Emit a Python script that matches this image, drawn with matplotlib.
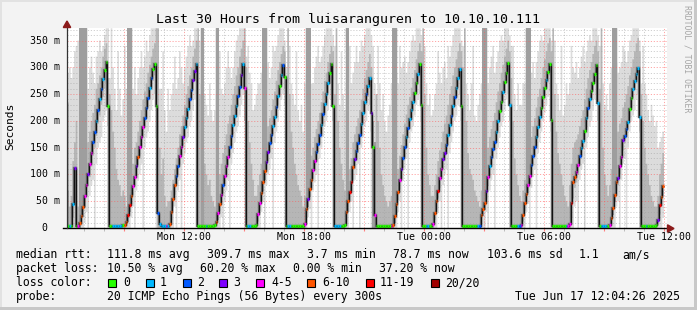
import numpy as np
import matplotlib
matplotlib.use("Agg")
import matplotlib.pyplot as plt
import matplotlib.patches as mpatches

W, H = 697, 310
BACK = "#f3f3f3"
MONO = "DejaVu Sans Mono"
LIGHT = "#dcdcdc"
MID = "#b6b6b6"
DARK = "#9e9e9e"

LOSS_COLORS = ["#26ff00", "#00b8ff", "#0059ff", "#7e00ff",
               "#ff00ff", "#ff5500", "#ff0000", "#a10000"]
LOSS_LABELS = ["0", "1", "2", "3", "4-5", "6-10", "11-19", "20/20"]

# ── DATA: one value per 300 s step, Mon 06:05 .. Tue 12:00 ──────────────────
median = [
    233, 233, 4, 4, 3, 45, 112, 4,
    3, 10, 22, 40, 60, 80, 100, 120, 140, 160, 180, 200, 220, 240, 260, 278, 295, 310, 228, 4,
    4, 3, 4, 4, 3, 4, 4, 5,
    5, 12, 25, 43, 60, 78, 96, 115, 133, 151, 170, 188, 206, 225, 243, 261, 280, 297, 307, 228, 28, 8,
    4, 4, 3, 4, 4,
    8, 30, 55, 80, 98, 116, 134, 152, 170, 188, 205, 223, 240, 258, 276, 293, 307, 4,
    4, 3, 4, 4, 4, 3, 4, 4, 4,
    5, 12, 28, 45, 62, 80, 97, 115, 132, 152, 172, 192, 210, 228, 246, 264, 285, 307, 261, 4,
    3, 4, 4, 4, 4,
    5, 26, 46, 66, 86, 106, 124, 141, 158, 174, 190, 207, 226, 246, 266, 285, 304, 282, 4,
    4, 4, 4, 3, 4, 4, 4, 4, 3, 4,
    8, 35, 55, 73, 90, 108, 125, 141, 157, 173, 193, 212, 232, 251, 270, 290, 307, 228, 4,
    4, 4, 4, 4, 4, 6,
    30, 50, 68, 85, 114, 128, 143, 158, 173, 194, 215, 236, 250, 265, 280, 214, 151, 24, 4,
    4, 4, 4, 4, 4, 3, 4, 4, 4,
    6, 22, 45, 68, 90, 110, 131, 152, 170, 187, 203, 220, 236, 253, 270, 288, 307, 230, 4,
    4, 4, 4, 3, 4,
    8, 28, 50, 70, 94, 111, 128, 140, 155, 173, 192, 210, 228, 245, 262, 280, 297, 228, 4,
    4, 4, 4, 4, 3, 4, 4, 4, 4, 4,
    24, 35, 46, 70, 95, 115, 132, 147, 161, 180, 199, 218, 236, 254, 272, 290, 309, 230, 4,
    4, 4, 4, 4, 4,
    5, 25, 47, 63, 80, 98, 117, 135, 152, 170, 189, 207, 225, 244, 262, 277, 292, 307, 201, 4,
    4, 4, 4, 4, 4, 4, 4, 3, 4,
    8, 46, 86, 95, 105, 117, 135, 150, 162, 182, 205, 225, 240, 255, 270, 288, 304, 234, 4,
    4, 4, 4, 4, 4,
    5, 18, 37, 62, 85, 94, 116, 133, 164, 172, 185, 198, 223, 242, 260, 275, 288, 299, 207, 4,
    4, 4, 4, 4, 3, 4, 4, 4,
    5, 15, 43, 58, 79,
]

# loss class per step (index into LOSS_COLORS)
loss = ("11010130"
        "45554434422121210000"
        "01111110"
        "5566544354442221200021"
        "11141"
        "555522443111223310"
        "000010000"
        "05454244422111223140"
        "11000"
        "0445553322112101200"
        "1100000000"
        "4535544222121110001"
        "111000"
        "5566532221112113040"
        "000000004"
        "5555432212111001000"
        "01100"
        "4556443321121211100"
        "0000000012"
        "5553412221100100010"
        "00012"
        "45554422211100010000"
        "000000014"
        "4655442110121000010"
        "11110"
        "45555344322100111110"
        "00100000"
        "03655")

# outer smoke (light grey)
smoke_lo = [
    0, 0, 0, 0, 0, 0, 0, 0,
    0, 0, 0, 0, 10, 30, 0, 60, 80, 90, 0, 120, 150, 160, 170, 200, 210, 220, 0, 0,
    0, 0, 0, 0, 0, 0, 0, 0,
    0, 0, 0, 0, 20, 40, 0, 70, 90, 100, 120, 0, 150, 170, 180, 200, 220, 240, 250, 0, 0, 0,
    0, 0, 0, 0, 0,
    0, 0, 0, 40, 0, 70, 90, 0, 120, 140, 160, 170, 190, 200, 220, 240, 250, 0,
    0, 0, 0, 0, 0, 0, 0, 0, 0,
    0, 0, 0, 0, 20, 0, 50, 70, 90, 0, 120, 140, 160, 180, 190, 210, 230, 250, 200, 0,
    0, 0, 0, 0, 0,
    0, 0, 0, 30, 50, 0, 80, 100, 110, 130, 0, 160, 180, 200, 220, 240, 250, 230, 0,
    0, 0, 0, 0, 0, 0, 0, 0, 0, 0,
    0, 0, 20, 35, 0, 70, 85, 100, 0, 130, 150, 170, 190, 200, 220, 240, 250, 0, 0,
    0, 0, 0, 0, 0, 0,
    0, 0, 30, 50, 0, 90, 100, 120, 0, 150, 170, 190, 200, 220, 230, 0, 0, 0, 0,
    0, 0, 0, 0, 0, 0, 0, 0, 0,
    0, 0, 0, 30, 50, 0, 90, 110, 130, 0, 160, 180, 190, 210, 230, 240, 250, 0, 0,
    0, 0, 0, 0, 0,
    0, 0, 0, 30, 50, 0, 80, 100, 110, 0, 140, 160, 180, 200, 210, 230, 250, 0, 0,
    0, 0, 0, 0, 0, 0, 0, 0, 0, 0,
    0, 0, 0, 30, 0, 70, 90, 100, 0, 130, 150, 170, 190, 200, 220, 240, 250, 0, 0,
    0, 0, 0, 0, 0,
    0, 0, 0, 30, 45, 0, 75, 95, 110, 0, 140, 160, 180, 200, 215, 230, 245, 255, 0, 0,
    0, 0, 0, 0, 0, 0, 0, 0, 0,
    0, 0, 0, 40, 50, 0, 90, 110, 120, 0, 150, 170, 190, 200, 220, 240, 250, 0, 0,
    0, 0, 0, 0, 0,
    0, 0, 0, 0, 40, 50, 0, 90, 120, 130, 0, 150, 180, 200, 210, 220, 240, 250, 0, 0,
    0, 0, 0, 0, 0, 0, 0, 0,
    0, 0, 0, 0, 20,
]
smoke_hi = [
    373, 373, 290, 300, 280, 300, 330, 340,
    350, 373, 340, 320, 300, 280, 260, 300, 320, 290, 270, 320, 330, 350, 330, 340, 360, 373, 373, 280,
    373, 300, 260, 220, 330, 260, 210, 240,
    340, 260, 220, 200, 230, 260, 300, 250, 280, 300, 330, 300, 320, 350, 330, 360, 373, 373, 373, 373, 340, 260,
    260, 330, 220, 180, 260,
    220, 250, 270, 320, 260, 280, 330, 300, 270, 300, 320, 340, 360, 340, 350, 373, 373, 340,
    350, 270, 290, 250, 230, 210, 270, 220, 200,
    220, 250, 270, 330, 260, 250, 270, 300, 330, 300, 280, 300, 330, 350, 360, 373, 373, 373, 350, 320,
    340, 290, 270, 220, 230,
    250, 270, 270, 290, 340, 270, 300, 310, 280, 300, 340, 330, 340, 360, 373, 373, 373, 350, 300,
    373, 340, 270, 250, 230, 330, 220, 200, 230, 180,
    270, 290, 270, 330, 270, 270, 300, 320, 340, 310, 320, 340, 360, 373, 373, 373, 373, 360, 340,
    340, 270, 230, 330, 250, 220,
    270, 300, 340, 270, 290, 310, 340, 310, 330, 350, 340, 360, 373, 373, 373, 360, 340, 270, 250,
    340, 270, 220, 250, 200, 180, 210, 230, 270,
    250, 270, 290, 270, 340, 300, 310, 320, 290, 310, 330, 350, 360, 350, 373, 373, 373, 360, 270,
    340, 270, 230, 250, 210,
    220, 250, 270, 330, 290, 270, 300, 310, 280, 340, 320, 340, 360, 373, 373, 373, 373, 350, 340,
    350, 270, 250, 220, 270, 340, 210, 200, 230, 250,
    270, 340, 270, 290, 270, 300, 320, 340, 290, 310, 330, 350, 360, 350, 373, 373, 373, 360, 340,
    340, 250, 220, 270, 230,
    230, 270, 270, 290, 340, 270, 290, 310, 280, 310, 330, 350, 360, 350, 373, 373, 373, 373, 350, 340,
    350, 270, 250, 220, 340, 210, 230, 270, 250,
    270, 340, 300, 290, 310, 280, 300, 320, 340, 310, 330, 350, 360, 350, 373, 373, 373, 360, 340,
    340, 270, 230, 250, 220,
    270, 300, 340, 320, 310, 290, 300, 310, 340, 330, 310, 330, 350, 360, 373, 373, 373, 373, 350, 270,
    340, 270, 250, 220, 200, 230, 210, 190,
    200, 150, 160, 170, 180,
]

# inner smoke (mid grey)
band_lo = [
    0, 0, 0, 0, 0, 20, 70, 0,
    0, 0, 5, 20, 40, 60, 78, 95, 115, 135, 150, 172, 195, 210, 230, 245, 260, 270, 190, 0,
    0, 0, 0, 0, 0, 0, 0, 0,
    0, 3, 12, 30, 45, 62, 80, 98, 118, 135, 152, 170, 188, 205, 225, 240, 260, 275, 285, 170, 0, 0,
    0, 0, 0, 0, 0,
    0, 15, 40, 62, 82, 100, 118, 136, 154, 170, 188, 205, 222, 240, 258, 274, 285, 0,
    0, 0, 0, 0, 0, 0, 0, 0, 0,
    0, 2, 15, 32, 48, 65, 82, 100, 118, 136, 155, 175, 192, 210, 228, 245, 262, 280, 200, 0,
    0, 0, 0, 0, 0,
    0, 12, 32, 50, 70, 90, 108, 125, 142, 158, 175, 192, 210, 230, 250, 268, 282, 260, 0,
    0, 0, 0, 0, 0, 0, 0, 0, 0, 0,
    0, 20, 40, 58, 75, 92, 110, 125, 142, 158, 176, 195, 215, 235, 252, 270, 285, 200, 0,
    0, 0, 0, 0, 0, 0,
    10, 30, 50, 68, 90, 110, 125, 140, 155, 175, 195, 215, 230, 245, 260, 180, 0, 0, 0,
    0, 0, 0, 0, 0, 0, 0, 0, 0,
    0, 10, 30, 52, 72, 92, 112, 132, 150, 168, 185, 202, 218, 235, 252, 268, 285, 200, 0,
    0, 0, 0, 0, 0,
    0, 15, 35, 55, 75, 95, 110, 125, 138, 155, 175, 192, 210, 228, 245, 262, 278, 200, 0,
    0, 0, 0, 0, 0, 0, 0, 0, 0, 0,
    10, 22, 33, 55, 78, 98, 115, 130, 145, 163, 182, 200, 218, 235, 252, 270, 288, 200, 0,
    0, 0, 0, 0, 0,
    0, 12, 32, 48, 65, 82, 100, 118, 135, 152, 170, 188, 205, 225, 242, 258, 272, 285, 180, 0,
    0, 0, 0, 0, 0, 0, 0, 0, 0,
    0, 20, 55, 75, 85, 100, 118, 135, 148, 165, 188, 208, 225, 240, 255, 272, 288, 200, 0,
    0, 0, 0, 0, 0,
    0, 8, 25, 48, 70, 80, 100, 118, 145, 158, 170, 184, 205, 225, 242, 258, 272, 285, 180, 0,
    0, 0, 0, 0, 0, 0, 0, 0,
    0, 5, 25, 40, 60,
]
band_hi = [
    260, 250, 70, 40, 60, 125, 160, 200,
    40, 373, 373, 373, 373, 373, 160, 180, 200, 215, 230, 260, 270, 285, 300, 320, 335, 345, 280, 250,
    220, 180, 150, 110, 90, 80, 60, 70,
    60, 40, 373, 373, 373, 120, 150, 160, 180, 200, 220, 240, 255, 270, 290, 305, 320, 335, 345, 373, 373, 150,
    100, 130, 60, 40, 50,
    50, 70, 90, 110, 130, 150, 175, 190, 210, 230, 250, 265, 285, 300, 320, 335, 350, 373,
    250, 373, 373, 120, 100, 80, 90, 60, 50,
    40, 373, 373, 100, 120, 140, 155, 175, 195, 210, 230, 250, 265, 285, 300, 320, 335, 350, 373, 300,
    200, 160, 120, 90, 60,
    60, 80, 100, 120, 373, 373, 373, 190, 205, 220, 240, 255, 275, 295, 310, 325, 340, 330, 200,
    373, 250, 180, 150, 120, 100, 80, 70, 60, 40,
    60, 373, 373, 373, 135, 150, 170, 185, 200, 215, 235, 255, 275, 290, 310, 325, 340, 330, 250,
    373, 200, 150, 120, 90, 70,
    373, 373, 110, 130, 160, 175, 190, 205, 220, 240, 260, 280, 295, 310, 325, 300, 200, 160, 250,
    200, 150, 100, 80, 60, 50, 40, 50, 60,
    373, 373, 373, 110, 135, 155, 175, 195, 212, 230, 245, 262, 280, 295, 315, 330, 345, 330, 373,
    250, 150, 100, 80, 60,
    60, 80, 100, 125, 145, 160, 180, 195, 210, 230, 250, 265, 285, 300, 315, 330, 345, 330, 300,
    373, 200, 140, 110, 100, 90, 70, 60, 50, 40,
    70, 373, 373, 373, 150, 170, 185, 200, 215, 235, 255, 270, 290, 305, 320, 335, 350, 330, 280,
    200, 130, 100, 80, 60,
    50, 70, 90, 373, 373, 373, 170, 190, 205, 225, 245, 260, 280, 300, 315, 330, 345, 355, 330, 373,
    250, 180, 140, 120, 100, 80, 60, 50, 40,
    80, 120, 150, 160, 165, 175, 190, 205, 220, 240, 260, 280, 295, 310, 325, 340, 350, 330, 260,
    373, 150, 100, 80, 60,
    80, 110, 373, 373, 373, 180, 195, 205, 225, 235, 250, 265, 285, 300, 315, 330, 345, 355, 330, 250,
    200, 150, 120, 100, 80, 60, 50, 40,
    40, 60, 100, 120, 140,
]

# steps whose inner smoke is drawn darker (tall dark columns)
dark_steps = [10, 11, 12, 13, 14, 39, 40, 41, 83, 84, 92, 93, 120, 121, 122,
              146, 147, 148, 170, 171, 186, 187, 198, 199, 200, 252, 253, 254,
              278, 279, 280, 330, 331, 332]

x_major_labels = ["Mon 12:00", "Mon 18:00", "Tue 00:00", "Tue 06:00", "Tue 12:00"]
x_major_hours = [6, 12, 18, 24, 30]          # hours after Mon 06:00
y_ticks = [0, 50, 100, 150, 200, 250, 300, 350]

rtt_legend = [(16, "median rtt:"), (107, "111.8 ms avg"), (207, "309.7 ms max"),
              (307, "3.7 ms min"), (393, "78.7 ms now"), (487, "103.6 ms sd"),
              (579, "1.1"), (622, "am/s")]
loss_legend = [(16, "packet loss:"), (107, "10.50 % avg"), (200, "60.20 % max"),
               (293, "0.00 % min"), (379, "37.20 % now")]
box_x = [108, 146, 183, 219, 256, 307, 366, 431]
box_label_x = [123, 160, 197, 233, 271, 322, 380, 445]

median = np.array(median, float)
loss_code = np.array([int(c) for c in loss])
smoke_lo, smoke_hi = np.array(smoke_lo, float), np.array(smoke_hi, float)
band_lo, band_hi = np.array(band_lo, float), np.array(band_hi, float)
edges = np.arange(len(median) + 1) / 12.0

# ── FIGURE ──────────────────────────────────────────────────────────────────
fig = plt.figure(figsize=(W / 100, H / 100), dpi=100, facecolor=BACK)
ax = fig.add_axes([67 / W, 1 - 228 / H, 600 / W, 200 / H])
ax.set_facecolor("white")
ax.set_xlim(0.15, 30.15)
ax.set_ylim(0, 373.5)
for s in ax.spines.values():
    s.set_visible(False)

ax.stairs(smoke_hi, edges, baseline=smoke_lo, fill=True, color=LIGHT, lw=0, zorder=1)
ax.stairs(band_hi, edges, baseline=band_lo, fill=True, color=MID, lw=0, zorder=1.5)
idx = np.array(dark_steps) - 1
ax.bar(edges[idx], band_hi[idx] - band_lo[idx], bottom=band_lo[idx], width=1 / 12,
       align="edge", color=DARK, lw=0, zorder=2)

# grid (rrdtool style dotted, translucent so it fades over the smoke)
ax.set_axisbelow(False)
ax.set_xticks(np.arange(3, 31, 3))
ax.set_xticks(np.arange(1, 31, 1), minor=True)
ax.set_yticks(np.arange(50, 351, 50))
ax.set_yticks(np.arange(10, 371, 10), minor=True)
ax.grid(which="minor", color="#a0a0a0", alpha=0.5, lw=0.7, ls=(0, (1.2, 1.8)))
ax.grid(which="major", color="#ff5a5a", alpha=0.55, lw=0.7, ls=(0, (1.2, 1.8)))
ax.tick_params(axis="x", which="major", direction="out", length=2.5, width=0.8,
               color="#ff8080", labelbottom=False)
ax.tick_params(axis="x", which="minor", direction="out", length=2, width=0.7,
               color="#bbbbbb")
ax.tick_params(axis="y", which="both", length=0, labelleft=False)

# median line + loss colours
ax.stairs(median, edges, baseline=None, color="#6a6a6a", lw=1.7, zorder=3)
ax.stairs(median, edges, baseline=None, color="#111111", lw=0.9, zorder=3.5)
ax.hlines(median, edges[:-1], edges[1:], colors=[LOSS_COLORS[c] for c in loss_code],
          lw=2.4, capstyle="butt", zorder=4)

# axes lines and arrows
def axc(px, py):
    return ((px - 67) / 600, (228 - py) / 200)

ax.plot([axc(63, 0)[0], axc(668, 0)[0]], [0, 0], color="black", lw=1.0,
        transform=ax.transAxes, clip_on=False, zorder=6)
ax.plot([0, 0], [0, axc(0, 26)[1]], color="#333333", lw=0.9,
        transform=ax.transAxes, clip_on=False, zorder=6)
ax.add_patch(mpatches.Polygon([axc(667.5, 224.8), axc(667.5, 232.2), axc(674, 228.5)],
                              closed=True, color="#8b1a1a", transform=ax.transAxes,
                              clip_on=False, zorder=7))
ax.add_patch(mpatches.Polygon([axc(63.3, 27.5), axc(70.7, 27.5), axc(67, 21)],
                              closed=True, color="#8b1a1a", transform=ax.transAxes,
                              clip_on=False, zorder=7))

# tick labels
for h, lab in zip(x_major_hours, x_major_labels):
    ax.text(h, -(240.5 - 228) / 200, lab, transform=ax.get_xaxis_transform(),
            ha="center", va="baseline", fontsize=7.1, family=MONO)
for v in y_ticks:
    lab = f"{v} m" if v else "0  "
    ax.text(-(67 - 60.5) / 600, v, lab, transform=ax.get_yaxis_transform(),
            ha="right", va="center", fontsize=7.1, family=MONO)

# ── TEXTS ───────────────────────────────────────────────────────────────────
def ftext(x, y, s, **kw):
    kw.setdefault("fontsize", 8.3)
    kw.setdefault("family", MONO)
    kw.setdefault("va", "baseline")
    fig.text(x / W, 1 - y / H, s, **kw)

ftext(347.5, 23.3, "Last 30 Hours from luisaranguren to 10.10.10.111",
      fontsize=9.5, ha="center")
ftext(10.5, 126.5, "Seconds", fontsize=8.1, rotation=90, ha="center", va="center")
ftext(687, 5, "RRDTOOL / TOBI OETIKER", fontsize=5.9, rotation=270,
      ha="center", va="top", color="#a5a5a5")

for x, s in rtt_legend:
    ftext(x, 258, s)
for x, s in loss_legend:
    ftext(x, 272, s)
ftext(16, 286, "loss color:")
for bx, lx, col, lab in zip(box_x, box_label_x, LOSS_COLORS, LOSS_LABELS):
    fig.patches.append(mpatches.Rectangle((bx / W, 1 - 286.5 / H), 8 / W, 8 / H,
                                          facecolor=col, edgecolor="black", lw=0.8,
                                          transform=fig.transFigure, figure=fig))
    ftext(lx, 286, lab)
ftext(16, 300, "probe:")
ftext(107, 300, "20 ICMP Echo Pings (56 Bytes) every 300s")
ftext(680, 300, "Tue Jun 17 12:04:26 2025", ha="right")

# 3d frame
for rect, col in [((0, 1 - 2 / H, 1, 2 / H), "#e2e2e2"), ((0, 0, 2 / W, 1), "#e2e2e2"),
                  ((1 - 3 / W, 0, 3 / W, 1), "#c8c8c8"), ((0, 0, 1, 3 / H), "#c8c8c8")]:
    fig.patches.append(mpatches.Rectangle(rect[:2], rect[2], rect[3], color=col, lw=0,
                                          transform=fig.transFigure, figure=fig))

fig.savefig("out.png", dpi=100, facecolor=fig.get_facecolor())
